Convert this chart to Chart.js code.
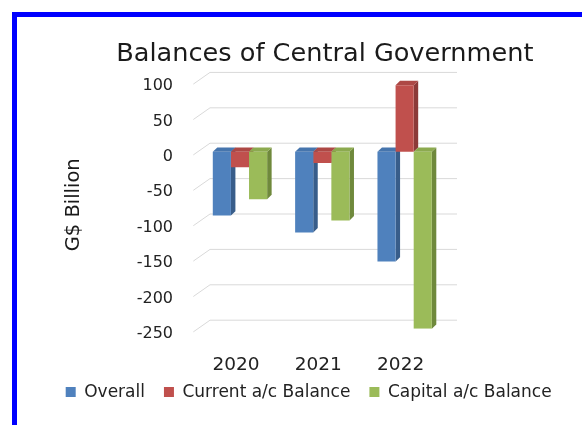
<!DOCTYPE html>
<html>
<head>
<meta charset="utf-8">
<title>Balances of Central Government</title>
<script src="https://cdn.jsdelivr.net/npm/chart.js@4.4.0/dist/chart.umd.min.js"></script>
<style>
html, body { margin: 0; padding: 0; background: #fff; overflow: hidden; }
#frame { position: absolute; left: 12px; top: 12px; width: 620px; height: 440px; border: 5px solid #0000ff; background: #fff; }
#balances { position: absolute; left: 0; top: 0; }
</style>
</head>
<body>
<div id="frame"><canvas id="balances" width="586" height="408"></canvas></div>
<script>
var years = ['2020', '2021', '2022'];
var overall = [-90, -114, -155];
var currentAc = [-22, -16, 94];
var capitalAc = [-67, -97, -250];
var yMin = -250, yMax = 100, yStep = 50;

// front / side / top shades per series
var shades = [
    {front: '#4f81bd', side: '#385d8a', top: '#4675ad'},
    {front: '#c0504d', side: '#8c3a38', top: '#ad4845'},
    {front: '#9bbb59', side: '#6f893c', top: '#8caa4f'}
];
var BACK = {dx: 11.2, dy: -8.5};   // back wall offset from bar faces
var FRONT = {dx: -5.5, dy: 3.2};   // front floor edge offset
var DEPTH = {dx: 4.5, dy: -4.3};   // bar depth
var FONT = '"DejaVu Sans", sans-serif';
var TEXT = '#222';

function poly(ctx, pts, col) {
    ctx.beginPath();
    ctx.moveTo(pts[0][0], pts[0][1]);
    for (var i = 1; i < pts.length; i++) ctx.lineTo(pts[i][0], pts[i][1]);
    ctx.closePath();
    ctx.fillStyle = col;
    ctx.fill();
}

var depthPlugin = {
    id: 'depth3d',
    beforeDatasetsDraw: function (chart) {
        var ctx = chart.ctx, a = chart.chartArea, ys = chart.scales.y;
        ctx.save();
        // wall gridlines with the little floor diagonal
        ctx.strokeStyle = '#d9d9d9';
        ctx.lineWidth = 1;
        ys.ticks.forEach(function (t) {
            var y = ys.getPixelForValue(t.value);
            ctx.beginPath();
            ctx.moveTo(a.left + FRONT.dx, y + FRONT.dy);
            ctx.lineTo(a.left + BACK.dx, y + BACK.dy);
            ctx.lineTo(a.right + BACK.dx, y + BACK.dy);
            ctx.stroke();
        });
        // side and top faces, the library draws the fronts afterwards
        chart.data.datasets.forEach(function (ds, di) {
            var meta = chart.getDatasetMeta(di);
            meta.data.forEach(function (bar) {
                var p = bar.getProps(['x', 'y', 'base', 'width'], true);
                var l = p.x - p.width / 2, r = p.x + p.width / 2;
                var top = Math.min(p.y, p.base), bot = Math.max(p.y, p.base);
                poly(ctx, [[r, top], [r + DEPTH.dx, top + DEPTH.dy], [r + DEPTH.dx, bot + DEPTH.dy], [r, bot]], shades[di].side);
                poly(ctx, [[l, top], [l + DEPTH.dx, top + DEPTH.dy], [r + DEPTH.dx, top + DEPTH.dy], [r, top]], shades[di].top);
            });
        });
        ctx.restore();
    },
    afterDraw: function (chart) {
        // year labels under the floor front edge
        var ctx = chart.ctx, a = chart.chartArea, xs = chart.scales.x;
        ctx.save();
        ctx.font = '18.5px ' + FONT;
        ctx.fillStyle = TEXT;
        ctx.textAlign = 'center';
        ctx.textBaseline = 'middle';
        xs.ticks.forEach(function (t, i) {
            ctx.fillText(xs.getLabelForValue(t.value), xs.getPixelForTick(i) + FRONT.dx + 1.5, a.bottom + 36);
        });
        ctx.restore();
    }
};

function buildChart() {
    var names = ['Overall', 'Current a/c Balance', 'Capital a/c Balance'];
    var series = [overall, currentAc, capitalAc];
    var sets = [];
    for (var i = 0; i < series.length; i++) {
        sets.push({
            label: names[i],
            data: series[i],
            backgroundColor: shades[i].front,
            borderWidth: 0,
            categoryPercentage: 0.66,
            barPercentage: 1
        });
    }
    var ctx = document.getElementById('balances').getContext('2d');
    new Chart(ctx, {
        type: 'bar',
        data: {labels: years, datasets: sets},
        plugins: [depthPlugin],
        options: {
            responsive: false,
            animation: false,
            layout: {padding: {left: 29.7, right: 0, top: 0, bottom: 14.4}},
            plugins: {
                title: {
                    display: true,
                    text: 'Balances of Central Government',
                    color: '#1a1a1a',
                    font: {family: FONT, size: 25.6, weight: 'normal'},
                    padding: {top: 22, bottom: 11.2}
                },
                legend: {
                    position: 'bottom',
                    align: 'start',
                    labels: {boxWidth: 10, boxHeight: 10, padding: 19, color: TEXT, font: {family: FONT, size: 17}}
                },
                tooltip: {enabled: false}
            },
            scales: {
                x: {
                    ticks: {display: false},
                    grid: {display: false},
                    border: {display: false},
                    afterFit: function (s) { s.height = 35.9; }
                },
                y: {
                    min: yMin,
                    max: yMax,
                    ticks: {stepSize: yStep, padding: 17.8, labelOffset: 5.2, color: TEXT, font: {family: FONT, size: 16}},
                    grid: {display: false},
                    border: {display: false},
                    title: {display: true, text: 'G$ Billion', color: '#1a1a1a', font: {family: FONT, size: 19.5}, padding: {top: 15.6, bottom: 0}},
                    afterFit: function (s) { s.width = 152.1; }
                },
                yR: {
                    type: 'linear',
                    position: 'right',
                    ticks: {display: false},
                    grid: {display: false},
                    border: {display: false},
                    afterFit: function (s) { s.width = 157.2; }
                }
            }
        }
    });
}
window.onload = function () {
    buildChart();
};
</script>
</body>
</html>
